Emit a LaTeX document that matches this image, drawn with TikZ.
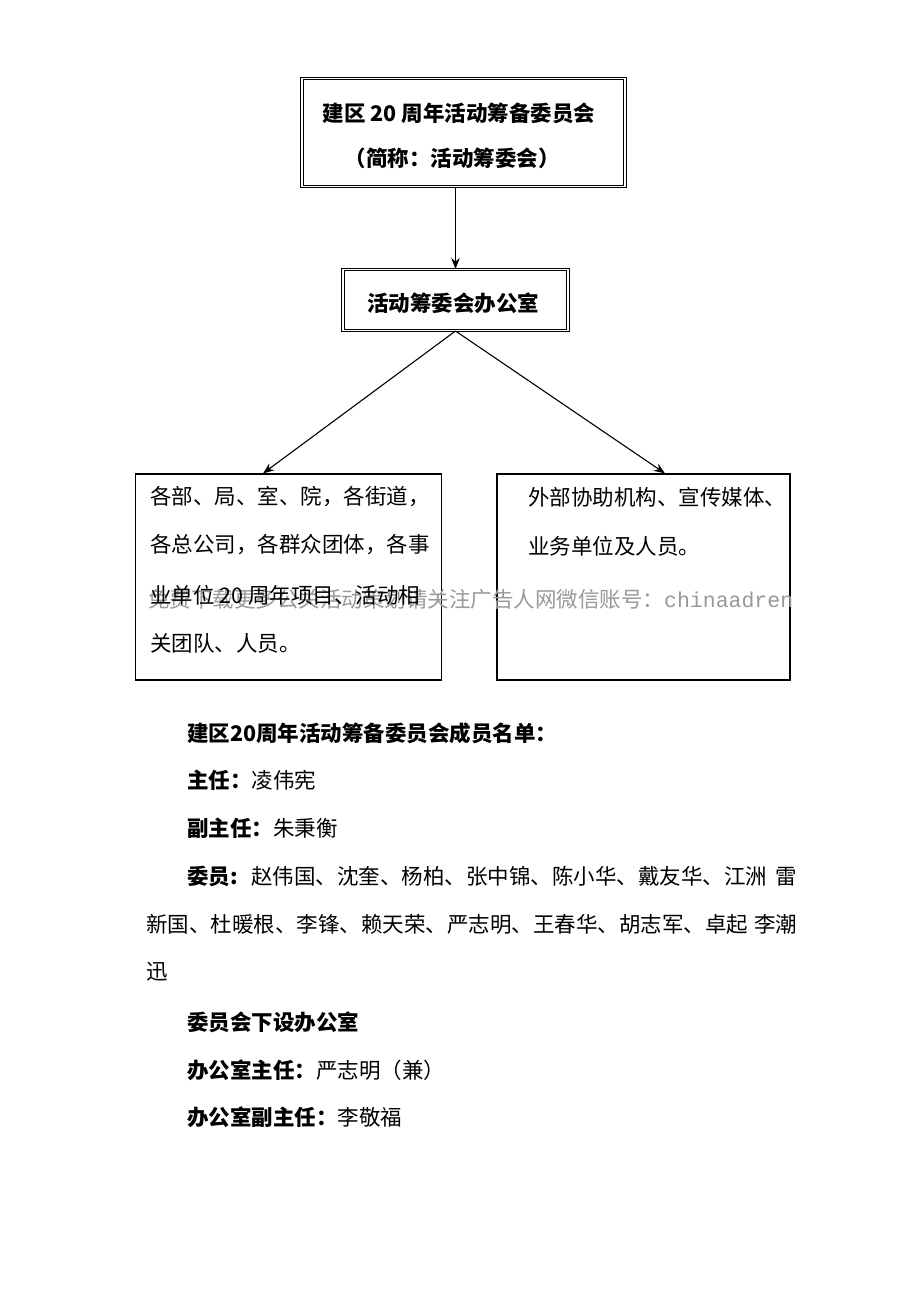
\documentclass[tikz,border=0pt]{standalone}
\usepackage{fontspec}
\setmainfont{Noto Sans CJK SC}
\newfontfamily\monof{Liberation Mono}
\usetikzlibrary{arrows.meta,calc}
\XeTeXlinebreaklocale "zh"
\XeTeXlinebreakskip=0pt plus 3pt
\tikzset{
  dbox/.style={draw, double, double distance=1.4pt, line width=1pt, rectangle, inner sep=0pt},
  sbox/.style={draw, line width=1.2pt, rectangle, inner sep=0pt},
  txt/.style={anchor=west, inner sep=0pt, font=\fontsize{21.5pt}{26pt}\selectfont},
  btxt/.style={txt, font=\fontsize{21.5pt}{26pt}\selectfont\bfseries},
  ctxt/.style={btxt, anchor=center},
  conn/.style={line width=1.1pt, -{Stealth[length=11pt,width=8.5pt]}},
  wm/.style={anchor=west, inner sep=0pt, text=black!40, font=\fontsize{21.5pt}{26pt}\selectfont},
}
\begin{document}
\begin{tikzpicture}[x=1pt,y=-1pt]
\fill[white] (0,0) rectangle (920,1302);
\useasboundingbox (0,0) rectangle (920,1302);

% boxes
\node[dbox, minimum width=323pt, minimum height=108pt] (top) at (463.5,132.5) {};
\node[ctxt] (t1) at (459,113) {建区 20 周年活动筹备委员会};
\node[ctxt] (t2) at (452,158) {（简称：活动筹委会）};

\node[dbox, minimum width=225pt, minimum height=61pt] (office) at (455.5,300) {};
\node[ctxt] (o1) at (453,303) {活动筹委会办公室};

\node[sbox, minimum width=306pt, minimum height=206pt] (lb) at (288.5,577) {};
\node[sbox, minimum width=293pt, minimum height=206pt] (rb) at (643.5,577) {};

% connectors
\draw[conn] (office.north |- top.south) -- (office.north);
\draw[conn] (office.south) -- ([xshift=-25.5pt]lb.north);
\draw[conn] (office.south) -- ([xshift=21.5pt]rb.north);

% watermark
\node[wm] (wmk) at (148,599) {免费下载更多公关活动策划请关注广告人网微信账号：{\monof chinaadren}};

% left box text
\node[txt] (l1) at (150,497) {各部、局、室、院，各街道，};
\node[txt] (l2) at (150,545) {各总公司，各群众团体，各事};
\node[txt] (l3) at (150,595) {业单位 20 周年项目、活动相};
\node[txt] (l4) at (150,643) {关团队、人员。};

% right box text
\node[txt] (r1) at (528,497) {外部协助机构、宣传媒体、};
\node[txt] (r2) at (528,546) {业务单位及人员。};

% list below
\node[btxt] (h1) at (187,733) {建区20周年活动筹备委员会成员名单：};
\node[txt] (m1) at (187,780) {{\bfseries 主任：}凌伟宪};
\node[txt] (m2) at (187,828) {{\bfseries 副主任：}朱秉衡};
\node[txt] (m3) at (187,876) {\hbox to 610pt{{\bfseries 委员:} 赵伟国、沈奎、杨柏、张中锦、陈小华、戴友华、江洲 雷}};
\node[txt] (m4) at (146,924) {\hbox to 651pt{新国、杜暖根、李锋、赖天荣、严志明、王春华、胡志军、卓起 李潮}};
\node[txt] (m5) at (146,972) {迅};
\node[btxt] (h2) at (187,1022) {委员会下设办公室};
\node[txt] (m6) at (187,1070) {{\bfseries 办公室主任：}严志明（兼）};
\node[txt] (m7) at (187,1117) {{\bfseries 办公室副主任：}李敬福};
\end{tikzpicture}
\end{document}
